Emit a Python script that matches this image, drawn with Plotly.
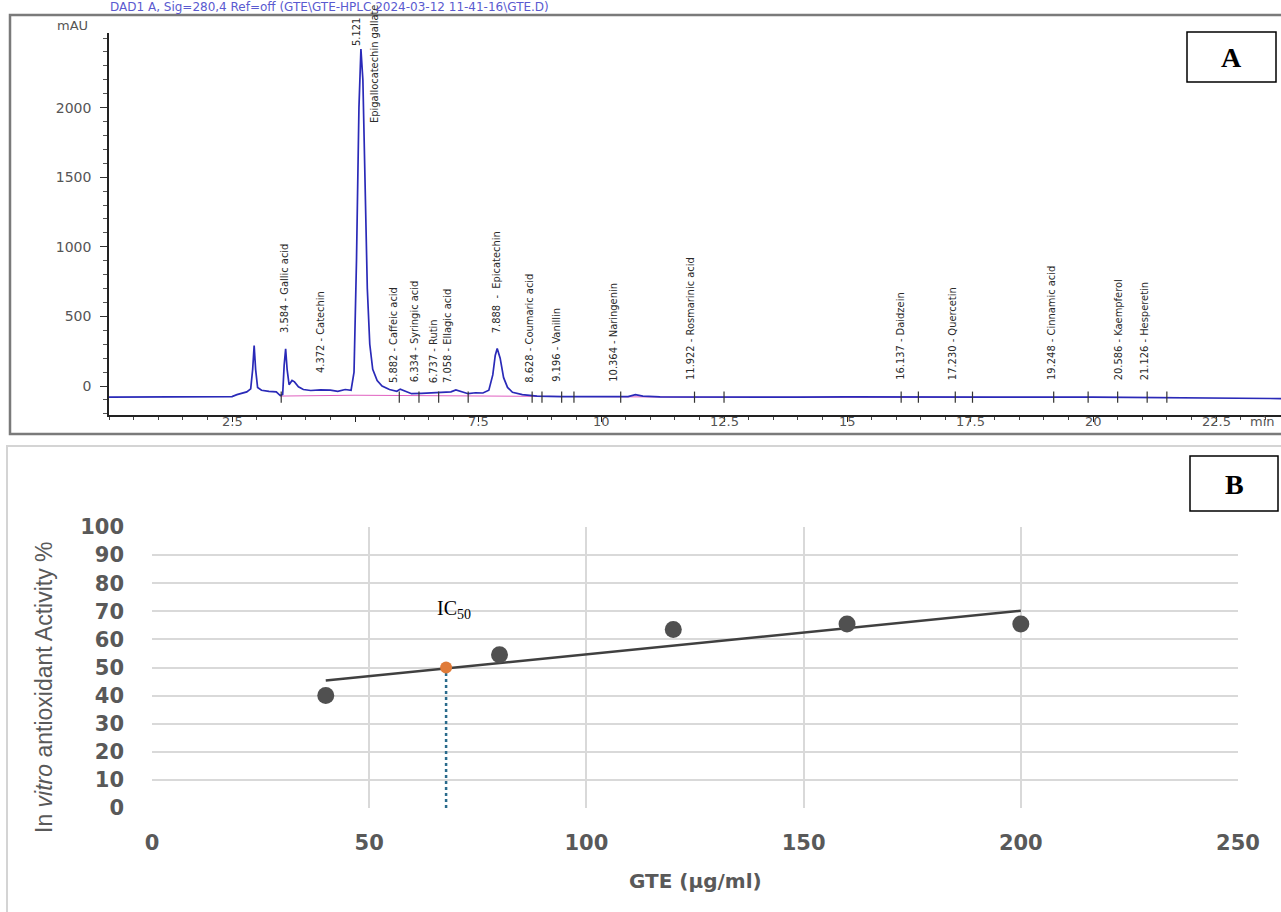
import plotly.graph_objects as go
import numpy as np

W, H = 1281, 912

# ---------------- Panel A: HPLC chromatogram ----------------
chrom_time = [0.0, 2.35, 2.5, 2.6, 2.7, 2.8, 2.88, 2.92, 2.95, 2.98, 3.02, 3.1, 3.25, 3.4,
              3.48, 3.53, 3.56, 3.59, 3.62, 3.66, 3.72, 3.77, 3.85, 3.95, 4.1, 4.3, 4.5,
              4.65, 4.8, 4.92, 4.98, 5.03, 5.08, 5.12, 5.16, 5.2, 5.25, 5.3, 5.36, 5.45,
              5.55, 5.7, 5.85, 5.92, 6.0, 6.15, 6.35, 6.55, 6.75, 6.95, 7.05, 7.15, 7.3,
              7.45, 7.6, 7.72, 7.8, 7.85, 7.89, 7.95, 8.02, 8.1, 8.2, 8.4, 8.7, 9.2, 10.0,
              10.55, 10.7, 10.85, 11.2, 12.5, 14.0, 15.0, 16.0, 18.0, 20.0, 21.5, 22.3, 23.82]
chrom_mau = [-80, -80, -76, -62, -50, -42, -20, 120, 290, 120, -10, -30, -38, -42,
             -68, -60, 150, 268, 120, 10, 40, 30, -5, -25, -32, -28, -30,
             -38, -25, -30, 100, 900, 2000, 2420, 2200, 1400, 700, 300, 120, 40,
             0, -25, -38, -22, -35, -55, -52, -50, -45, -42, -28, -40, -55,
             -48, -50, -30, 80, 220, 270, 200, 60, -10, -45, -62, -72, -76, -78,
             -76, -62, -72, -78, -80, -80, -78, -80, -80, -80, -82, -86, -90]

integ_time = [3.48, 5.0, 8.7, 12.0, 21.6]
integ_mau = [-72, -66, -74, -80, -82]

peak_rt = [3.584, 4.372, 5.882, 6.334, 6.737, 7.058, 7.888, 8.628, 9.196, 10.364,
           11.922, 16.137, 17.230, 19.248, 20.586, 21.126]
peak_text = ["3.584 - Gallic acid", "4.372 - Catechin", "5.882 - Caffeic acid",
             "6.334 - Syringic acid", "6.737 - Rutin", "7.058 - Ellagic acid",
             "7.888  -  Epicatechin", "8.628 - Coumaric acid", "9.196 - Vanillin",
             "10.364 - Naringenin", "11.922 - Rosmarinic acid", "16.137 - Daidzein",
             "17.230 - Quercetin", "19.248 - Cinnamic acid", "20.586 - Kaempferol",
             "21.126 - Hesperetin"]
peak_label_base = [366, 80, 10, 10, 10, 10, 366, 10, 20, 20, 30, 30, 30, 30, 30, 30]
main_rt = 5.121
main_name = "Epigallocatechin gallate"
main_label_base = 2428
main_name_base = 1875

marker_rt = [3.5, 5.9, 6.3, 6.7, 7.3, 8.6, 8.8, 9.2, 9.45, 10.4, 11.9, 12.5, 16.1, 16.45,
             17.2, 17.55, 19.2, 19.9, 20.5, 21.1, 21.5]

a_xticks = [2.5, 5, 7.5, 10, 12.5, 15, 17.5, 20, 22.5]
a_xticklabels = ["2.5", "", "7.5", "10", "12.5", "15", "17.5", "20", "22.5"]
a_yticks = [0, 500, 1000, 1500, 2000]

# ---------------- Panel B: antioxidant activity ----------------
gte_conc = [40, 80, 120, 160, 200]
activity = [40.0, 54.5, 63.5, 65.5, 65.5]
ic50_conc = 67.7
ic50_act = 50
b_xticks = [0, 50, 100, 150, 200, 250]
b_yticks = [0, 10, 20, 30, 40, 50, 60, 70, 80, 90, 100]

def px(x):
    return x / W

def py(y):
    return 1 - y / H

fig = go.Figure()

fig.add_trace(go.Scatter(x=integ_time, y=integ_mau, mode="lines",
                         line=dict(color="#e060c0", width=1), xaxis="x", yaxis="y",
                         hoverinfo="skip", showlegend=False))
fig.add_trace(go.Scatter(x=chrom_time, y=chrom_mau, mode="lines",
                         line=dict(color="#2a2ab8", width=1.7), xaxis="x", yaxis="y",
                         showlegend=False))
fig.add_trace(go.Scatter(x=marker_rt, y=[-80] * len(marker_rt), mode="markers",
                         marker=dict(symbol="line-ns", size=8, line=dict(color="#333", width=1.2)),
                         xaxis="x", yaxis="y", hoverinfo="skip", showlegend=False))

coef = np.polyfit(gte_conc, activity, 1)
tx = [min(gte_conc), max(gte_conc)]
ty = [coef[0] * v + coef[1] for v in tx]
fig.add_trace(go.Scatter(x=[ic50_conc, ic50_conc], y=[0, ic50_act], mode="lines",
                         line=dict(color="#2a6b8c", width=2.5, dash="dot"),
                         xaxis="x2", yaxis="y2", showlegend=False))
fig.add_trace(go.Scatter(x=tx, y=ty, mode="lines", line=dict(color="#404040", width=2.5),
                         xaxis="x2", yaxis="y2", showlegend=False))
fig.add_trace(go.Scatter(x=gte_conc, y=activity, mode="markers",
                         marker=dict(color="#505050", size=17), xaxis="x2", yaxis="y2",
                         showlegend=False))
fig.add_trace(go.Scatter(x=[ic50_conc], y=[ic50_act], mode="markers",
                         marker=dict(color="#e07b39", size=12), xaxis="x2", yaxis="y2",
                         showlegend=False))

annotations = []
lab_font = dict(family="Liberation Sans Narrow, DejaVu Sans Condensed, Liberation Sans, Arial", size=11, color="#2a2a2a")
xshifts = [-1, -3, -5, -6, -7, -9, -1, -4, -5, -5, -5, -2, -4, -4, -4, -4]
for t, txt, b, xs in zip(peak_rt, peak_text, peak_label_base, xshifts):
    annotations.append(dict(x=t, y=b, xref="x", yref="y", text=txt, textangle=-90,
                            showarrow=False, xanchor="center", yanchor="bottom",
                            xshift=xs, font=lab_font))
annotations.append(dict(x=main_rt, y=main_label_base, xref="x", yref="y", text=f"{main_rt:.3f}",
                        textangle=-90, showarrow=False, xanchor="center", yanchor="bottom",
                        xshift=-5, font=lab_font))
annotations.append(dict(x=main_rt, y=main_name_base, xref="x", yref="y", text=main_name,
                        textangle=-90, showarrow=False, xanchor="center", yanchor="bottom",
                        xshift=13, font=lab_font))
for v, s in zip(a_xticks, a_xticklabels):
    if s:
        annotations.append(dict(x=v, y=py(421), xref="x", yref="paper", text=s, showarrow=False,
                                xanchor="center", yanchor="middle",
                                font=dict(family="DejaVu Sans", size=13, color="#555")))
annotations.append(dict(x=px(1262), y=py(421), xref="paper", yref="paper", text="min",
                        showarrow=False, xanchor="center", yanchor="middle",
                        font=dict(family="DejaVu Sans", size=13, color="#555")))
annotations.append(dict(x=px(72), y=py(25), xref="paper", yref="paper", text="mAU",
                        showarrow=False, xanchor="center", yanchor="middle",
                        font=dict(family="DejaVu Sans", size=13, color="#555")))
annotations.append(dict(x=px(108), y=py(7), xref="paper", yref="paper",
                        text="DAD1 A, Sig=280,4 Ref=off (GTE\\GTE-HPLC 2024-03-12 11-41-16\\GTE.D)",
                        showarrow=False, xanchor="left", yanchor="middle",
                        font=dict(family="DejaVu Sans", size=12, color="#5a5ad0")))
annotations.append(dict(x=px(1231), y=py(57), xref="paper", yref="paper", text="<b>A</b>",
                        showarrow=False, xanchor="center", yanchor="middle",
                        font=dict(family="Liberation Serif", size=28, color="black")))
annotations.append(dict(x=px(1234), y=py(484), xref="paper", yref="paper", text="<b>B</b>",
                        showarrow=False, xanchor="center", yanchor="middle",
                        font=dict(family="Liberation Serif", size=28, color="black")))
annotations.append(dict(x=ic50_conc, y=ic50_act, xref="x2", yref="y2", text="IC<sub>50</sub>",
                        showarrow=False, xshift=8, yshift=58, xanchor="center", yanchor="middle",
                        font=dict(family="Liberation Serif", size=20, color="black")))
annotations.append(dict(x=px(44), y=py(688), xref="paper", yref="paper",
                        text="In <i>vitro</i> antioxidant Activity %", textangle=-90,
                        showarrow=False, xanchor="center", yanchor="middle",
                        font=dict(family="Liberation Sans", size=23, color="#595959")))
annotations.append(dict(x=px(695), y=py(881), xref="paper", yref="paper",
                        text="<b>GTE (µg/ml)</b>", showarrow=False, xanchor="center", yanchor="middle",
                        font=dict(family="DejaVu Sans", size=20, color="#595959")))

shapes = [
    dict(type="rect", xref="paper", yref="paper", x0=px(10), x1=px(1290), y0=py(434), y1=py(15),
         line=dict(color="#7a7a7a", width=2.5)),
    dict(type="rect", xref="paper", yref="paper", x0=px(7), x1=px(1290), y0=py(920), y1=py(446),
         line=dict(color="#d4d4d4", width=2)),
    dict(type="rect", xref="paper", yref="paper", x0=px(1187), x1=px(1276), y0=py(82), y1=py(32),
         line=dict(color="black", width=1.5)),
    dict(type="rect", xref="paper", yref="paper", x0=px(1190), x1=px(1278), y0=py(511), y1=py(456),
         line=dict(color="black", width=1.5)),
]

fig.update_layout(
    width=W, height=H, margin=dict(l=0, r=0, t=0, b=0, autoexpand=False),
    paper_bgcolor="white", plot_bgcolor="rgba(0,0,0,0)",
    showlegend=False,
    xaxis=dict(domain=[px(109), 1.0], range=[0, 23.82], showgrid=False, zeroline=False,
               automargin=False,
               showline=True, linecolor="#222", linewidth=2, ticks="outside", ticklen=5,
               tickcolor="#222", tickvals=a_xticks, showticklabels=False,
               minor=dict(dtick=0.5, ticks="outside", ticklen=3, tickcolor="#444")),
    yaxis=dict(domain=[py(415), py(33)], range=[-208, 2536], showgrid=False, zeroline=False,
               automargin=False,
               showline=True, linecolor="#222", linewidth=1.5, ticks="outside", ticklen=7,
               tickcolor="#333", tickvals=a_yticks, ticklabelstandoff=6,
               tickfont=dict(family="DejaVu Sans", size=14, color="#555"),
               minor=dict(dtick=100, ticks="outside", ticklen=4, tickcolor="#555")),
    xaxis2=dict(domain=[px(152), px(1238)], range=[0, 250], anchor="y2",
                automargin=False,
                showgrid=True, gridcolor="#d9d9d9", gridwidth=1.5, zeroline=False,
                showline=False, tickvals=b_xticks, ticks="", ticklabelstandoff=20,
                tickfont=dict(family="DejaVu Sans", size=21, color="#595959", weight="bold")),
    yaxis2=dict(domain=[py(808), py(527)], range=[0, 100], anchor="x2",
                automargin=False,
                showgrid=True, gridcolor="#d9d9d9", gridwidth=1.5, zeroline=False,
                showline=False, tickvals=b_yticks, ticks="", ticklabelstandoff=27,
                tickfont=dict(family="DejaVu Sans", size=21, color="#595959", weight="bold")),
    annotations=annotations,
    shapes=shapes,
)

fig.write_html("out.html", config={"displayModeBar": False},
               post_script="document.body.style.margin='0';document.body.style.overflow='hidden';")
